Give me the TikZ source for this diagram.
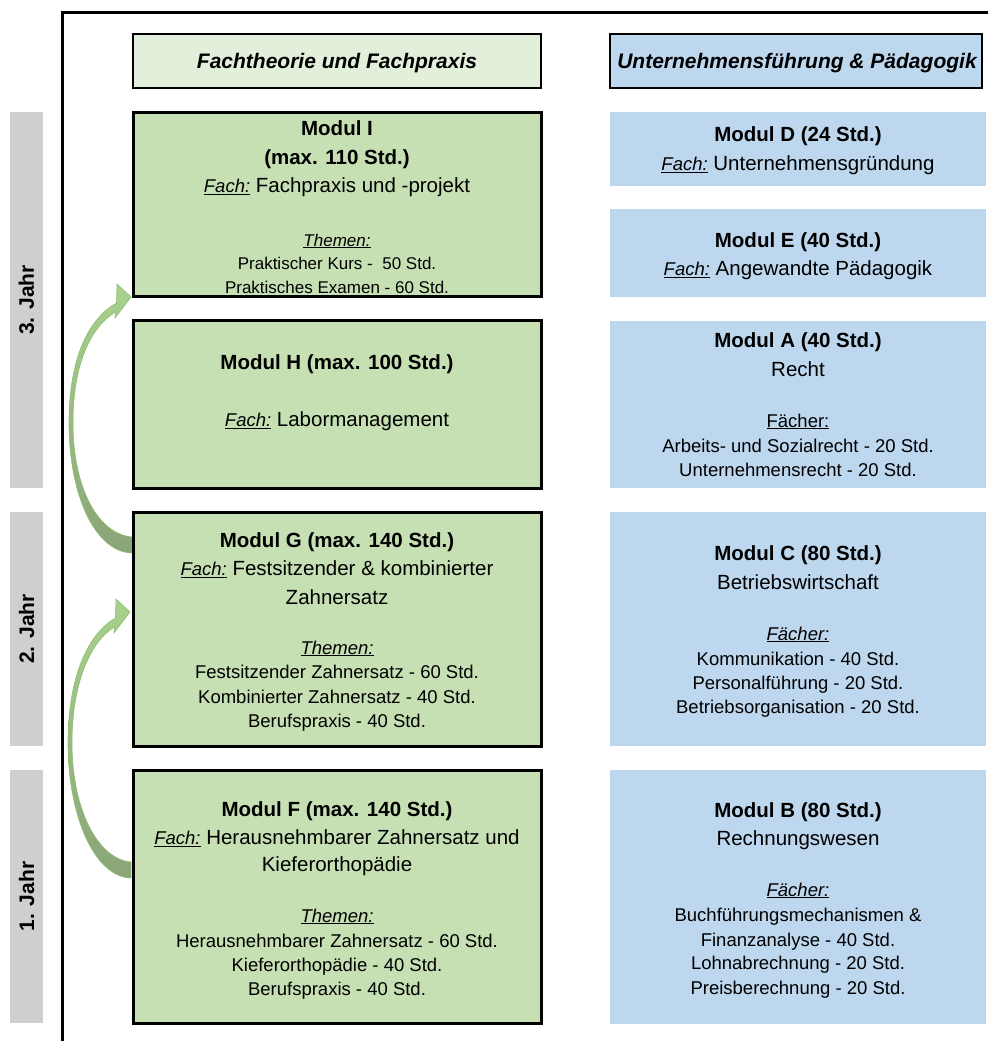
\documentclass[tikz,border=0pt]{standalone}
\usepackage{fontspec}
\setmainfont{Liberation Sans}
\usetikzlibrary{calc}
\definecolor{gfill}{HTML}{C6E0B4}
\definecolor{ghead}{HTML}{E2EFDA}
\definecolor{bfill}{HTML}{BDD7EE}
\definecolor{yfill}{HTML}{D0CECE}
\definecolor{arlight}{HTML}{A9D18E}
\definecolor{ardark}{HTML}{8AA478}
\definecolor{aredge}{HTML}{8CC06C}
\newcommand\fachu{\underline{\fontsize{18.5}{22}\selectfont\itshape Fach:}}
\newcommand\ulit[1]{\underline{\itshape #1}}
\newcommand\bentarrow[2]{%
  \path[bigarrow] ($(#2)+(0,16)$)
    .. controls ($(#2)+(-37,15)$) and ($(#1)!0.5!(#2)+(-62.5,78)$) .. ($(#1)!0.5!(#2)+(-62.5,6)$)
    .. controls ($(#1)!0.5!(#2)+(-62.5,-62)$) and ($(#1)+(-41,21)$) .. ($(#1)+(-14.5,6)$)
    -- ($(#1)+(-14,-13)$) -- (#1) -- ($(#1)+(-16,21)$) -- ($(#1)+(-15.5,15)$)
    .. controls ($(#1)+(-39,29)$) and ($(#1)!0.5!(#2)+(-58.5,-55)$) .. ($(#1)!0.5!(#2)+(-58.5,6)$)
    .. controls ($(#1)!0.5!(#2)+(-58.5,71)$) and ($(#2)+(-34,-3)$) .. (#2) -- cycle;}
\begin{document}
\begin{tikzpicture}[x=1pt,y=-1pt,
  gbox/.style={draw=black, line width=3pt, fill=gfill, inner sep=0, outer sep=0, minimum width=408},
  bbox/.style={fill=bfill, inner sep=0, outer sep=0, minimum width=376},
  hbox/.style={draw=black, line width=2pt, inner sep=0, outer sep=0, minimum height=54},
  ybar/.style={fill=yfill, inner sep=0, outer sep=0, minimum width=33},
  ylab/.style={rotate=90, inner sep=0, font=\fontsize{21}{24}\selectfont\bfseries},
  bt/.style={anchor=base, inner sep=0, font=\fontsize{20.5}{24}\selectfont\bfseries},
  nt/.style={anchor=base, inner sep=0, font=\fontsize{20.5}{24}\selectfont},
  st/.style={anchor=base, inner sep=0, font=\fontsize{18.5}{22}\selectfont},
  sti/.style={anchor=base, inner sep=0, font=\fontsize{17}{20}\selectfont},
  ht/.style={anchor=base, inner sep=0, font=\fontsize{21}{24}\selectfont\bfseries\itshape},
  frame/.style={line width=3pt, draw=black},
  bigarrow/.style={draw=aredge, line width=0.6pt, top color=arlight, bottom color=ardark}]
\useasboundingbox (0,0) rectangle (988,1041);

% frame lines
\coordinate (fc) at (62,13);
\coordinate (fr) at (988,13);
\coordinate (fb) at (62,1041);
\draw[frame] (fr) -- (fc) -- (fb);

% year bars
\node[ybar, minimum height=376] (y3) at (26.5,300) {};
\node[ybar, minimum height=234] (y2) at (26.5,629) {};
\node[ybar, minimum height=253] (y1) at (26.5,896.5) {};
\node[ylab] (y3l) at (y3.center) {3. Jahr};
\node[ylab] (y2l) at (y2.center) {2. Jahr};
\node[ylab] (y1l) at (y1.center) {1. Jahr};

% headers
\node[hbox, fill=ghead, minimum width=408] (hg) at (337,61) {};
\node[hbox, fill=bfill, minimum width=372] (hb) at (796,61) {};
\node[ht] (hgt) at (337,68.5) {Fachtheorie und Fachpraxis};
\node[ht] (hbt) at (797,68.5) {Unternehmensführung \& Pädagogik};

% positions
\path (337,204) coordinate (Ic) (337,404) coordinate (Hc) (337,629) coordinate (Gc) (337,896.5) coordinate (Fc);
\coordinate (IGsw) at (133,296);
\coordinate (Gnw) at (133,512);
\coordinate (Fnw) at (133,770);

% arrows (behind boxes)
\coordinate (t1) at ($(IGsw)+(-2,1)$);
\coordinate (s1) at ($(Gnw)+(-1,25)$);
\coordinate (t2) at ($(Gnw)+(-3,100)$);
\coordinate (s2) at ($(Fnw)+(-2,92)$);
\bentarrow{t1}{s1}
\bentarrow{t2}{s2}

% green boxes
\node[gbox, minimum height=184] (I) at (Ic) {};
\node[gbox, minimum height=168] (H) at (Hc) {};
\node[gbox, minimum height=234] (G) at (Gc) {};
\node[gbox, minimum height=253] (F) at (Fc) {};

% blue boxes
\node[bbox, minimum height=74] (D) at (798,149) {};
\node[bbox, minimum height=88] (E) at (798,253) {};
\node[bbox, minimum height=167] (A) at (798,404.5) {};
\node[bbox, minimum height=234] (C) at (798,629) {};
\node[bbox, minimum height=254] (B) at (798,897) {};

% Modul I
\node[bt] (i1) at (337,135.5) {Modul I};
\node[bt] (i2) at (337,164.5) {(max. 110 Std.)};
\node[nt] (i3) at (337,192.5) {\fachu\ Fachpraxis und -projekt};
\node[sti] (i4) at (337,246) {\ulit{Themen:}};
\node[sti] (i5) at (337,269) {Praktischer Kurs -\ \ 50 Std.};
\node[sti] (i6) at (337,293) {Praktisches Examen - 60 Std.};

% Modul H
\node[bt] (h1) at (337,369.5) {Modul H (max. 100 Std.)};
\node[nt] (h2) at (337,426.5) {\fachu\ Labormanagement};

% Modul G
\node[bt] (g1) at (337,547.5) {Modul G (max. 140 Std.)};
\node[nt] (g2) at (337,575.5) {\fachu\ Festsitzender \& kombinierter};
\node[nt] (g3) at (337,604.5) {Zahnersatz};
\node[st] (g4) at (337,654) {\ulit{Themen:}};
\node[st] (g5) at (337,678) {Festsitzender Zahnersatz - 60 Std.};
\node[st] (g6) at (337,703) {Kombinierter Zahnersatz - 40 Std.};
\node[st] (g7) at (337,727) {Berufspraxis - 40 Std.};

% Modul F
\node[bt] (f1) at (337,816.5) {Modul F (max. 140 Std.)};
\node[nt] (f2) at (337,844.5) {\fachu\ Herausnehmbarer Zahnersatz und};
\node[nt] (f3) at (337,871.5) {Kieferorthopädie};
\node[st] (f4) at (337,922) {\ulit{Themen:}};
\node[st] (f5) at (337,947) {Herausnehmbarer Zahnersatz - 60 Std.};
\node[st] (f6) at (337,971) {Kieferorthopädie - 40 Std.};
\node[st] (f7) at (337,995) {Berufspraxis - 40 Std.};

% Modul D
\node[bt] (d1) at (798,141.5) {Modul D (24 Std.)};
\node[nt] (d2) at (798,170.5) {\fachu\ Unternehmensgründung};

% Modul E
\node[bt] (e1) at (798,247.5) {Modul E (40 Std.)};
\node[nt] (e2) at (798,275.5) {\fachu\ Angewandte Pädagogik};

% Modul A
\node[bt] (a1) at (798,347.5) {Modul A (40 Std.)};
\node[nt] (a2) at (798,376.5) {Recht};
\node[st] (a3) at (798,427) {\underline{Fächer:}};
\node[st] (a4) at (798,452) {Arbeits- und Sozialrecht - 20 Std.};
\node[st] (a5) at (798,476) {Unternehmensrecht - 20 Std.};

% Modul C
\node[bt] (c1) at (798,560.5) {Modul C (80 Std.)};
\node[nt] (c2) at (798,589.5) {Betriebswirtschaft};
\node[st] (c3) at (798,640) {\ulit{Fächer:}};
\node[st] (c4) at (798,665) {Kommunikation - 40 Std.};
\node[st] (c5) at (798,689) {Personalführung - 20 Std.};
\node[st] (c6) at (798,713) {Betriebsorganisation - 20 Std.};

% Modul B
\node[bt] (b1) at (798,817.5) {Modul B (80 Std.)};
\node[nt] (b2) at (798,845.5) {Rechnungswesen};
\node[st] (b3) at (798,896) {\ulit{Fächer:}};
\node[st] (b4) at (798,921) {Buchführungsmechanismen \&};
\node[st] (b5) at (798,946) {Finanzanalyse - 40 Std.};
\node[st] (b6) at (798,969) {Lohnabrechnung - 20 Std.};
\node[st] (b7) at (798,994) {Preisberechnung - 20 Std.};
\end{tikzpicture}
\end{document}
